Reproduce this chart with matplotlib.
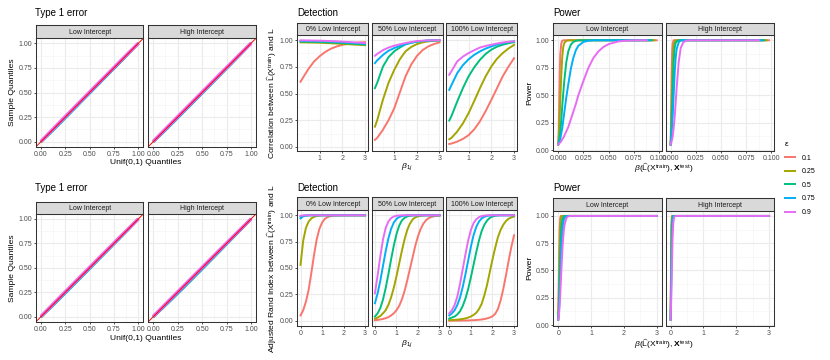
import matplotlib
matplotlib.use('Agg')
import matplotlib.pyplot as plt
from matplotlib.lines import Line2D
from matplotlib.ticker import FormatStrFormatter

plt.rcParams['font.family'] = ['Liberation Sans', 'DejaVu Sans']
plt.rcParams['mathtext.fontset'] = 'custom'
plt.rcParams['mathtext.rm'] = 'Liberation Sans'
plt.rcParams['mathtext.it'] = 'Liberation Sans:italic'
plt.rcParams['mathtext.bf'] = 'Liberation Sans:bold'

# ---------------- data ----------------
eps_labels = ['0.1', '0.25', '0.5', '0.75', '0.9']
colors = ['#F8766D', '#A3A500', '#00BF7D', '#00B0F6', '#E76BF3']

# type 1 error qq lines (one list per epsilon)
qq_q = [0.0, 0.1, 0.2, 0.3, 0.4, 0.5, 0.6, 0.7, 0.8, 0.9, 1.0]
t1_top_low = [
    [0.0, 0.100, 0.199, 0.300, 0.401, 0.500, 0.600, 0.699, 0.800, 0.900, 1.0],
    [0.0, 0.098, 0.197, 0.298, 0.398, 0.498, 0.598, 0.698, 0.798, 0.899, 1.0],
    [0.0, 0.096, 0.195, 0.295, 0.396, 0.496, 0.596, 0.697, 0.797, 0.898, 1.0],
    [0.0, 0.093, 0.192, 0.292, 0.393, 0.493, 0.594, 0.695, 0.795, 0.897, 1.0],
    [0.004, 0.105, 0.206, 0.306, 0.406, 0.506, 0.606, 0.705, 0.805, 0.904, 1.0],
]
t1_top_high = [
    [0.0, 0.100, 0.200, 0.300, 0.399, 0.500, 0.600, 0.700, 0.799, 0.900, 1.0],
    [0.0, 0.097, 0.196, 0.296, 0.396, 0.497, 0.597, 0.697, 0.797, 0.898, 1.0],
    [0.0, 0.095, 0.194, 0.294, 0.394, 0.495, 0.595, 0.696, 0.796, 0.897, 1.0],
    [0.0, 0.094, 0.193, 0.293, 0.393, 0.494, 0.594, 0.695, 0.795, 0.897, 1.0],
    [0.004, 0.105, 0.205, 0.305, 0.405, 0.505, 0.605, 0.705, 0.804, 0.903, 1.0],
]
t1_bot_low = [
    [0.0, 0.101, 0.201, 0.301, 0.400, 0.500, 0.601, 0.700, 0.800, 0.900, 1.0],
    [0.0, 0.098, 0.197, 0.298, 0.397, 0.498, 0.598, 0.698, 0.798, 0.899, 1.0],
    [0.0, 0.096, 0.195, 0.295, 0.395, 0.495, 0.596, 0.696, 0.796, 0.897, 1.0],
    [0.0, 0.093, 0.192, 0.291, 0.392, 0.492, 0.593, 0.694, 0.795, 0.896, 1.0],
    [0.004, 0.105, 0.206, 0.306, 0.406, 0.506, 0.606, 0.705, 0.805, 0.903, 1.0],
]
t1_bot_high = [
    [0.0, 0.101, 0.202, 0.302, 0.401, 0.500, 0.600, 0.700, 0.800, 0.900, 1.0],
    [0.0, 0.097, 0.196, 0.294, 0.394, 0.495, 0.596, 0.697, 0.797, 0.898, 1.0],
    [0.0, 0.094, 0.190, 0.288, 0.388, 0.489, 0.590, 0.692, 0.794, 0.896, 1.0],
    [0.0, 0.094, 0.191, 0.290, 0.390, 0.490, 0.592, 0.693, 0.795, 0.897, 1.0],
    [0.004, 0.105, 0.205, 0.305, 0.405, 0.505, 0.605, 0.705, 0.804, 0.903, 1.0],
]

# detection, correlation (top row)
det_x_top = [0.15, 0.25, 0.5, 0.75, 1.0, 1.25, 1.5, 1.75, 2.0, 2.25, 2.5, 2.75, 3.0]
det_top_0 = [
    [0.61, 0.645, 0.73, 0.80, 0.85, 0.89, 0.92, 0.94, 0.955, 0.965, 0.972, 0.977, 0.98],
    [0.978, 0.978, 0.977, 0.976, 0.975, 0.972, 0.97, 0.967, 0.964, 0.961, 0.958, 0.955, 0.952],
    [0.985, 0.985, 0.984, 0.983, 0.982, 0.98, 0.978, 0.975, 0.972, 0.969, 0.966, 0.962, 0.958],
    [0.992, 0.992, 0.991, 0.99, 0.989, 0.987, 0.985, 0.982, 0.979, 0.976, 0.972, 0.968, 0.965],
    [0.997, 0.997, 0.996, 0.995, 0.994, 0.992, 0.99, 0.988, 0.985, 0.982, 0.979, 0.975, 0.972],
]
det_top_50 = [
    [0.066, 0.085, 0.16, 0.25, 0.36, 0.51, 0.66, 0.77, 0.85, 0.905, 0.94, 0.962, 0.978],
    [0.19, 0.25, 0.44, 0.60, 0.72, 0.82, 0.894, 0.935, 0.962, 0.978, 0.988, 0.993, 0.996],
    [0.55, 0.60, 0.75, 0.84, 0.894, 0.93, 0.96, 0.975, 0.985, 0.991, 0.995, 0.997, 0.998],
    [0.784, 0.81, 0.86, 0.90, 0.925, 0.945, 0.962, 0.975, 0.985, 0.991, 0.995, 0.997, 0.998],
    [0.853, 0.87, 0.905, 0.93, 0.947, 0.96, 0.972, 0.982, 0.99, 0.994, 0.997, 0.998, 0.999],
]
det_top_100 = [
    [0.028, 0.032, 0.05, 0.075, 0.11, 0.165, 0.24, 0.335, 0.44, 0.55, 0.66, 0.75, 0.83],
    [0.072, 0.085, 0.144, 0.22, 0.316, 0.43, 0.55, 0.66, 0.753, 0.825, 0.878, 0.92, 0.955],
    [0.247, 0.29, 0.425, 0.55, 0.66, 0.745, 0.815, 0.87, 0.91, 0.938, 0.956, 0.97, 0.98],
    [0.534, 0.58, 0.69, 0.765, 0.82, 0.862, 0.894, 0.92, 0.94, 0.958, 0.972, 0.982, 0.988],
    [0.675, 0.71, 0.80, 0.845, 0.878, 0.905, 0.93, 0.945, 0.956, 0.968, 0.977, 0.984, 0.988],
]

# detection, adjusted rand index (bottom row)
det_x_bot = [0, 0.125, 0.25, 0.375, 0.5, 0.625, 0.75, 0.875, 1.0, 1.125, 1.25, 1.375, 1.5,
             1.625, 1.75, 1.875, 2.0, 2.125, 2.25, 2.375, 2.5, 2.625, 2.75, 2.875, 3.0]
det_bot_0 = [
    [0.05, 0.1, 0.18, 0.29, 0.45, 0.62, 0.77, 0.87, 0.93, 0.965, 0.982, 0.991, 0.996,
     0.998, 0.999, 1, 1, 1, 1, 1, 1, 1, 1, 1, 1],
    [0.53, 0.76, 0.88, 0.94, 0.97, 0.985, 0.993, 0.997, 0.999, 1, 1, 1, 1,
     1, 1, 1, 1, 1, 1, 1, 1, 1, 1, 1, 1],
    [0.985, 0.995, 0.998, 0.999, 1, 1, 1, 1, 1, 1, 1, 1, 1,
     1, 1, 1, 1, 1, 1, 1, 1, 1, 1, 1, 1],
    [0.97, 0.99, 0.997, 0.999, 1, 1, 1, 1, 1, 1, 1, 1, 1,
     1, 1, 1, 1, 1, 1, 1, 1, 1, 1, 1, 1],
    [0.995, 0.999, 1, 1, 1, 1, 1, 1, 1, 1, 1, 1, 1,
     1, 1, 1, 1, 1, 1, 1, 1, 1, 1, 1, 1],
]
det_bot_50 = [
    [0.005, 0.008, 0.012, 0.017, 0.024, 0.034, 0.05, 0.07, 0.1, 0.14, 0.2, 0.28, 0.38,
     0.49, 0.6, 0.71, 0.8, 0.87, 0.92, 0.953, 0.973, 0.984, 0.991, 0.995, 0.997],
    [0.02, 0.03, 0.045, 0.07, 0.1, 0.15, 0.22, 0.31, 0.42, 0.54, 0.66, 0.77, 0.86,
     0.92, 0.96, 0.98, 0.99, 0.995, 0.998, 1, 1, 1, 1, 1, 1],
    [0.04, 0.07, 0.12, 0.2, 0.31, 0.44, 0.58, 0.71, 0.82, 0.9, 0.95, 0.975, 0.989,
     0.995, 0.998, 1, 1, 1, 1, 1, 1, 1, 1, 1, 1],
    [0.166, 0.26, 0.38, 0.52, 0.66, 0.78, 0.87, 0.93, 0.965, 0.983, 0.992, 0.997, 1,
     1, 1, 1, 1, 1, 1, 1, 1, 1, 1, 1, 1],
    [0.26, 0.43, 0.61, 0.77, 0.88, 0.94, 0.973, 0.988, 0.995, 0.998, 1, 1, 1,
     1, 1, 1, 1, 1, 1, 1, 1, 1, 1, 1, 1],
]
det_bot_100 = [
    [0.0, 0.0, 0.001, 0.001, 0.001, 0.002, 0.002, 0.003, 0.004, 0.005, 0.007, 0.009, 0.012,
     0.016, 0.022, 0.03, 0.042, 0.065, 0.11, 0.19, 0.3, 0.43, 0.57, 0.7, 0.81],
    [0.005, 0.006, 0.008, 0.01, 0.013, 0.017, 0.022, 0.03, 0.04, 0.055, 0.075, 0.11, 0.16,
     0.24, 0.34, 0.46, 0.58, 0.69, 0.79, 0.86, 0.91, 0.945, 0.967, 0.98, 0.988],
    [0.02, 0.03, 0.04, 0.06, 0.09, 0.14, 0.21, 0.3, 0.41, 0.53, 0.65, 0.76, 0.85,
     0.91, 0.95, 0.975, 0.988, 0.995, 0.998, 1, 1, 1, 1, 1, 1],
    [0.05, 0.07, 0.1, 0.15, 0.22, 0.32, 0.44, 0.57, 0.7, 0.81, 0.89, 0.94, 0.97,
     0.986, 0.994, 0.998, 1, 1, 1, 1, 1, 1, 1, 1, 1],
    [0.07, 0.1, 0.15, 0.23, 0.35, 0.49, 0.63, 0.76, 0.86, 0.925, 0.962, 0.982, 0.992,
     0.997, 1, 1, 1, 1, 1, 1, 1, 1, 1, 1, 1],
]

# power, top row (x grid shared, last point per line differs)
pw_x_top = [0, 0.0005, 0.001, 0.0015, 0.002, 0.003, 0.004, 0.005, 0.006, 0.008, 0.01, 0.0125,
            0.015, 0.0175, 0.02, 0.025, 0.03, 0.035, 0.04, 0.045, 0.05, 0.06, 0.07, 0.08]
pw_end_top = [0.0978, 0.0955, 0.093, 0.091, 0.088]
pw_top_low = [
    [0.05, 0.2, 0.45, 0.7, 0.87, 0.97, 0.995, 1, 1, 1, 1, 1, 1, 1, 1, 1, 1, 1, 1, 1, 1, 1, 1, 1],
    [0.05, 0.1, 0.2, 0.32, 0.45, 0.68, 0.85, 0.94, 0.975, 0.995, 1, 1, 1, 1, 1, 1, 1, 1, 1, 1, 1, 1, 1, 1],
    [0.05, 0.07, 0.1, 0.13, 0.16, 0.27, 0.4, 0.52, 0.63, 0.8, 0.9, 0.96, 0.985, 0.995, 1, 1, 1, 1, 1, 1, 1, 1, 1, 1],
    [0.05, 0.06, 0.07, 0.08, 0.1, 0.15, 0.2, 0.27, 0.34, 0.48, 0.6, 0.74, 0.84, 0.91, 0.95, 0.985, 0.996, 1, 1, 1, 1, 1, 1, 1],
    [0.05, 0.055, 0.06, 0.065, 0.07, 0.08, 0.1, 0.11, 0.13, 0.17, 0.21, 0.28, 0.35, 0.42, 0.5, 0.63, 0.75, 0.84, 0.9, 0.94, 0.965, 0.99, 0.998, 1],
]
pw_top_high = [
    [0.05, 0.35, 0.7, 0.9, 0.97, 1, 1, 1, 1, 1, 1, 1, 1, 1, 1, 1, 1, 1, 1, 1, 1, 1, 1, 1],
    [0.05, 0.2, 0.4, 0.62, 0.8, 0.95, 0.99, 1, 1, 1, 1, 1, 1, 1, 1, 1, 1, 1, 1, 1, 1, 1, 1, 1],
    [0.05, 0.13, 0.25, 0.4, 0.55, 0.8, 0.93, 0.975, 0.99, 1, 1, 1, 1, 1, 1, 1, 1, 1, 1, 1, 1, 1, 1, 1],
    [0.05, 0.1, 0.17, 0.23, 0.3, 0.5, 0.7, 0.84, 0.92, 0.98, 1, 1, 1, 1, 1, 1, 1, 1, 1, 1, 1, 1, 1, 1],
    [0.05, 0.06, 0.08, 0.1, 0.12, 0.2, 0.3, 0.43, 0.57, 0.8, 0.93, 0.98, 0.995, 1, 1, 1, 1, 1, 1, 1, 1, 1, 1, 1],
]

# power, bottom row
pw_x_bot = [0, 0.02, 0.04, 0.06, 0.08, 0.1, 0.125, 0.15, 0.175, 0.2, 0.25, 0.3, 0.35, 0.4, 0.5, 1.0, 2.0, 3.0]
pw_bot_low = [
    [0.05, 0.5, 0.87, 0.98, 1, 1, 1, 1, 1, 1, 1, 1, 1, 1, 1, 1, 1, 1],
    [0.05, 0.3, 0.65, 0.88, 0.97, 0.995, 1, 1, 1, 1, 1, 1, 1, 1, 1, 1, 1, 1],
    [0.05, 0.18, 0.4, 0.62, 0.8, 0.9, 0.96, 0.985, 0.995, 1, 1, 1, 1, 1, 1, 1, 1, 1],
    [0.05, 0.12, 0.25, 0.42, 0.6, 0.74, 0.86, 0.93, 0.97, 0.985, 0.998, 1, 1, 1, 1, 1, 1, 1],
    [0.05, 0.09, 0.16, 0.27, 0.4, 0.53, 0.68, 0.8, 0.88, 0.93, 0.98, 0.995, 1, 1, 1, 1, 1, 1],
]
pw_bot_high = [
    [0.05, 0.9, 1, 1, 1, 1, 1, 1, 1, 1, 1, 1, 1, 1, 1, 1, 1, 1],
    [0.05, 0.75, 0.99, 1, 1, 1, 1, 1, 1, 1, 1, 1, 1, 1, 1, 1, 1, 1],
    [0.05, 0.55, 0.93, 0.99, 1, 1, 1, 1, 1, 1, 1, 1, 1, 1, 1, 1, 1, 1],
    [0.05, 0.4, 0.8, 0.96, 0.99, 1, 1, 1, 1, 1, 1, 1, 1, 1, 1, 1, 1, 1],
    [0.05, 0.25, 0.55, 0.8, 0.93, 0.98, 0.995, 1, 1, 1, 1, 1, 1, 1, 1, 1, 1, 1],
]

# ---------------- figure ----------------
W, H = 830, 360
fig = plt.figure(figsize=(W / 100, H / 100), dpi=100)

TICK_FS = 5.0
STRIP_FS = 5.0
LAB_FS = 6.1
TITLE_FS = 7.0
DARK = '#333333'


def px_axes(l, t, r, b):
    return fig.add_axes([l / W, 1 - b / H, (r - l) / W, (b - t) / H])


def panel(l, r, t, b, st, label, xlim, ylim, xmaj, xmin, ymaj, ymin, xfmt, first):
    ax = px_axes(l, t, r, b)
    ax.set_xlim(*xlim)
    ax.set_ylim(*ylim)
    ax.set_xticks(xmaj)
    ax.set_xticks(xmin, minor=True)
    ax.set_yticks(ymaj)
    ax.set_yticks(ymin, minor=True)
    ax.xaxis.set_major_formatter(FormatStrFormatter(xfmt))
    ax.yaxis.set_major_formatter(FormatStrFormatter('%.2f'))
    ax.grid(which='major', color='#EBEBEB', lw=0.8)
    ax.grid(which='minor', color='#F4F4F4', lw=0.45)
    ax.set_axisbelow(True)
    ax.tick_params(which='minor', length=0)
    ax.tick_params(which='major', length=1.5, width=0.6, color=DARK,
                   labelsize=TICK_FS, labelcolor='#4D4D4D', pad=1.3)
    if not first:
        ax.tick_params(axis='y', which='major', length=0, labelleft=False)
    for s in ax.spines.values():
        s.set_color(DARK)
        s.set_linewidth(0.75)
    # facet strip
    sx = px_axes(l, st, r, t)
    sx.set_facecolor('#D9D9D9')
    sx.set_xticks([])
    sx.set_yticks([])
    for s in sx.spines.values():
        s.set_color(DARK)
        s.set_linewidth(0.75)
    sx.text(0.5, 0.45, label, transform=sx.transAxes, ha='center', va='center',
            fontsize=STRIP_FS, color='#1A1A1A')
    return ax


quarter = [0, 0.25, 0.5, 0.75, 1.0]
eighth = [0.125, 0.375, 0.625, 0.875]

rows = [
    dict(t1=(t1_top_low, t1_top_high), t1y=(25.3, 38.3, 146.7),
         det=(det_top_0, det_top_50, det_top_100), detx=det_x_top, dety=(22.7, 34.7, 150.7),
         detlim=(0.0075, 3.1425), detylim=(-0.035, 1.05), detmaj=[1, 2, 3],
         pw=(pw_top_low, pw_top_high), pwx=pw_x_top, pwy=(22.7, 35, 150.7),
         pwlim=(-0.0049, 0.1027), pwmaj=[0, 0.025, 0.05, 0.075, 0.1],
         pwmin=[0.0125, 0.0375, 0.0625, 0.0875], pwfmt='%.3f',
         title_y=12.7, t1_xl=162.7, det_xl=166.7, pw_xl=168.3,
         det_ylab=r'Correlation between $\widehat{\mathrm{L}}(\mathrm{X}^{\mathrm{train}})$ and L'),
    dict(t1=(t1_bot_low, t1_bot_high), t1y=(201.7, 214, 321.7),
         det=(det_bot_0, det_bot_50, det_bot_100), detx=det_x_bot, dety=(196.7, 210, 326),
         detlim=(-0.15, 3.15), detylim=(-0.05, 1.05), detmaj=[0, 1, 2, 3],
         pw=(pw_bot_low, pw_bot_high), pwx=pw_x_bot, pwy=(198.3, 210.7, 325.7),
         pwlim=(-0.15, 3.15), pwmaj=[0, 1, 2, 3], pwmin=[0.5, 1.5, 2.5], pwfmt='%d',
         title_y=187.7, t1_xl=338.3, det_xl=343.3, pw_xl=344,
         det_ylab=r'Adjusted Rand Index between $\widehat{\mathrm{L}}(\mathrm{X}^{\mathrm{train}})$ and L'),
]

t1_cols = [(36, 143.3), (148.3, 256)]
det_cols = [(297.3, 368.3), (371.7, 442.7), (446, 517.3)]
pw_cols = [(553.3, 661.7), (665.7, 774)]
t1_names = ['Low Intercept', 'High Intercept']
det_names = ['0% Low Intercept', '50% Low Intercept', '100% Low Intercept']

for row in rows:
    # ---- type 1 error ----
    st, t, b = row['t1y']
    for i, (l, r) in enumerate(t1_cols):
        ax = panel(l, r, t, b, st, t1_names[i], (-0.05, 1.05), (-0.05, 1.05),
                   quarter, eighth, quarter, eighth, '%.2f', i == 0)
        for k, ys in enumerate(row['t1'][i]):
            ax.plot(qq_q, ys, color=colors[k], lw=2.4 if k == 4 else 1.9,
                    solid_capstyle='butt')
        ax.axline((0, 0), slope=1, color='#FF0000', lw=0.7)
    fig.text(146 / W, 1 - row['t1_xl'] / H, 'Unif(0,1) Quantiles', ha='center', va='center',
             fontsize=LAB_FS)
    fig.text(12 / W, 1 - (t + b) / 2 / H, 'Sample Quantiles', ha='center', va='center',
             rotation=90, fontsize=LAB_FS)
    fig.text(35 / W, 1 - row['title_y'] / H, 'Type 1 error', ha='left', va='center',
             fontsize=TITLE_FS)

    # ---- detection ----
    st, t, b = row['dety']
    for i, (l, r) in enumerate(det_cols):
        ax = panel(l, r, t, b, st, det_names[i], row['detlim'], row['detylim'],
                   row['detmaj'], [0.5, 1.5, 2.5], quarter, eighth, '%d', i == 0)
        for k, ys in enumerate(row['det'][i]):
            ax.plot(row['detx'], ys, color=colors[k], lw=1.4)
    fig.text(407.3 / W, 1 - row['det_xl'] / H, r'$\beta_{1j}$', ha='center', va='center',
             fontsize=LAB_FS)
    fig.text(272 / W, 1 - (t + b) / 2 / H, row['det_ylab'], ha='center', va='center',
             rotation=90, fontsize=LAB_FS)
    fig.text(297 / W, 1 - row['title_y'] / H, 'Detection', ha='left', va='center',
             fontsize=TITLE_FS)

    # ---- power ----
    st, t, b = row['pwy']
    for i, (l, r) in enumerate(pw_cols):
        ax = panel(l, r, t, b, st, t1_names[i], row['pwlim'], (-0.006, 1.048),
                   row['pwmaj'], row['pwmin'], quarter, eighth, row['pwfmt'], i == 0)
        for k, ys in enumerate(row['pw'][i]):
            xs = list(row['pwx'])
            ys = list(ys)
            if row is rows[0]:
                xs.append(pw_end_top[k])
                ys.append(1.0)
            ax.plot(xs, ys, color=colors[k], lw=1.4)
    fig.text(663.7 / W, 1 - row['pw_xl'] / H,
             r'$\beta(\widehat{\mathrm{L}}(\mathrm{X}^{\mathrm{train}}), \mathbf{X}^{\mathrm{test}})$',
             ha='center', va='center', fontsize=LAB_FS)
    fig.text(530 / W, 1 - (t + b) / 2 / H, 'Power', ha='center', va='center',
             rotation=90, fontsize=LAB_FS)
    fig.text(553 / W, 1 - row['title_y'] / H, 'Power', ha='left', va='center',
             fontsize=TITLE_FS)

# legend
handles = [Line2D([], [], color=c, lw=1.4) for c in colors]
fig.legend(handles, eps_labels, loc='upper left', bbox_to_anchor=(785 / W, 1 - 141 / H),
           frameon=False, title='ε', fontsize=TICK_FS, title_fontsize=LAB_FS,
           handlelength=1.5, handletextpad=0.9, labelspacing=0.95, alignment='left',
           borderpad=0, borderaxespad=0)

fig.savefig('out.png', dpi=100)
